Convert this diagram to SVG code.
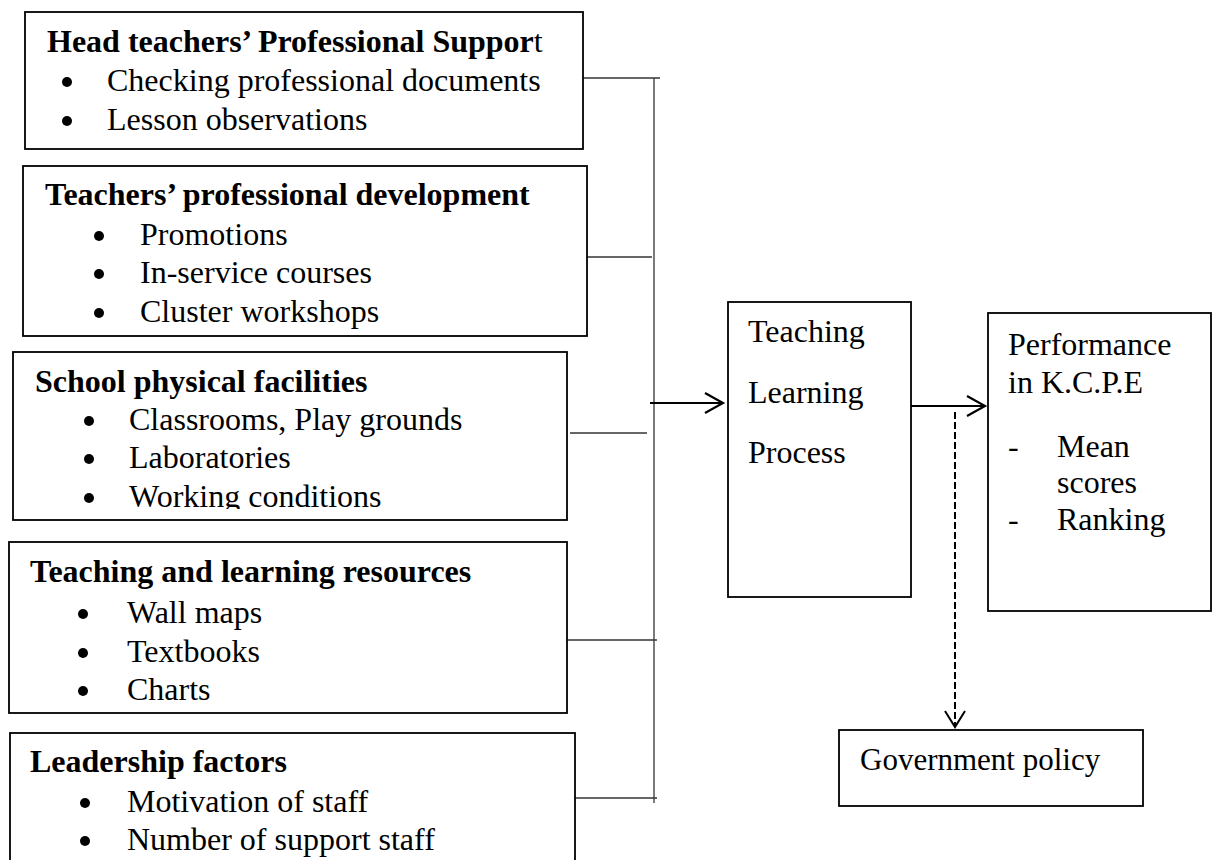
<svg xmlns="http://www.w3.org/2000/svg" width="1217" height="860" viewBox="0 0 1217 860">
  <style>
    .box { fill: #fff; stroke: #000; stroke-width: 1.8; }
    .t { font-family: "Liberation Serif", "Times New Roman", serif; font-size: 32px; fill: #000; }
    .b { font-weight: bold; }
    .n { font-weight: normal; }
    .bul { fill: #000; }
    .conn { stroke: #333; stroke-width: 1.3; fill: none; }
    .arrow { stroke: #000; stroke-width: 2.2; fill: none; }
    .dash { stroke: #000; stroke-width: 2; fill: none; stroke-dasharray: 7 3; }
  </style>
  <defs>
    <marker id="chev" markerWidth="22" markerHeight="24" refX="19" refY="12" orient="auto" markerUnits="userSpaceOnUse">
      <path d="M1,2 L19,12 L1,22" fill="none" stroke="#000" stroke-width="2.2"/>
    </marker>
    <clipPath id="clip3">
      <rect x="0" y="340" width="600" height="169"/>
    </clipPath>
  </defs>
  <rect width="1217" height="860" fill="#fff"/>

  <g id="connectors">
    <line class="conn" x1="583" y1="78" x2="660" y2="78"/>
    <line class="conn" x1="654" y1="78" x2="654" y2="803"/>
    <line class="conn" x1="583" y1="257" x2="652" y2="257"/>
    <line class="conn" x1="570" y1="433" x2="647" y2="433"/>
    <line class="conn" x1="567" y1="640" x2="657" y2="640"/>
    <line class="conn" x1="572" y1="798" x2="657" y2="798"/>
    <line class="arrow" x1="650" y1="403" x2="723" y2="403" marker-end="url(#chev)"/>
    <line class="arrow" x1="911" y1="406" x2="985" y2="406" marker-end="url(#chev)"/>
    <line class="dash" x1="955" y1="412" x2="955" y2="725"/>
    <path d="M945,711 L955,727 L965,711" fill="none" stroke="#000" stroke-width="2"/>
  </g>

  <g id="node-head-teachers">
    <rect class="box" x="25" y="12" width="558" height="137"/>
    <text class="t b" x="47" y="52">Head teachers’ Professional Suppor<tspan class="n">t</tspan></text>
    <circle class="bul" cx="67" cy="82" r="5"/>
    <text class="t" x="107" y="91">Checking professional documents</text>
    <circle class="bul" cx="67" cy="121" r="5"/>
    <text class="t" x="107" y="130">Lesson observations</text>
  </g>

  <g id="node-professional-development">
    <rect class="box" x="23" y="166" width="564" height="170"/>
    <text class="t b" x="45" y="205">Teachers’ professional development</text>
    <circle class="bul" cx="99" cy="236" r="5"/>
    <text class="t" x="140" y="245">Promotions</text>
    <circle class="bul" cx="99" cy="274" r="5"/>
    <text class="t" x="140" y="283">In-service courses</text>
    <circle class="bul" cx="99" cy="313" r="5"/>
    <text class="t" x="140" y="322">Cluster workshops</text>
  </g>

  <g id="node-physical-facilities">
    <rect class="box" x="13" y="352" width="554" height="168"/>
    <g clip-path="url(#clip3)">
      <text class="t b" x="35" y="392">School physical facilities</text>
      <circle class="bul" cx="89" cy="421" r="5"/>
      <text class="t" x="129" y="430">Classrooms, Play grounds</text>
      <circle class="bul" cx="89" cy="459" r="5"/>
      <text class="t" x="129" y="468">Laboratories</text>
      <circle class="bul" cx="89" cy="498" r="5"/>
      <text class="t" x="129" y="507">Working conditions</text>
    </g>
  </g>

  <g id="node-resources">
    <rect class="box" x="9" y="542" width="558" height="171"/>
    <text class="t b" x="30" y="582">Teaching and learning resources</text>
    <circle class="bul" cx="83" cy="614" r="5"/>
    <text class="t" x="127" y="623">Wall maps</text>
    <circle class="bul" cx="83" cy="653" r="5"/>
    <text class="t" x="127" y="662">Textbooks</text>
    <circle class="bul" cx="83" cy="691" r="5"/>
    <text class="t" x="127" y="700">Charts</text>
  </g>

  <g id="node-leadership">
    <rect class="box" x="10" y="733" width="565" height="160"/>
    <text class="t b" x="30" y="772">Leadership factors</text>
    <circle class="bul" cx="85" cy="803" r="5"/>
    <text class="t" x="127" y="812">Motivation of staff</text>
    <circle class="bul" cx="85" cy="841" r="5"/>
    <text class="t" x="127" y="850">Number of support staff</text>
  </g>

  <g id="node-teaching-learning">
    <rect class="box" x="728" y="302" width="183" height="295"/>
    <text class="t" x="748" y="342">Teaching</text>
    <text class="t" x="748" y="403">Learning</text>
    <text class="t" x="748" y="463">Process</text>
  </g>

  <g id="node-performance">
    <rect class="box" x="988" y="313" width="223" height="298"/>
    <text class="t" x="1008" y="355">Performance</text>
    <text class="t" x="1008" y="393">in K.C.P.E</text>
    <text class="t" x="1008" y="457">-</text>
    <text class="t" x="1057" y="457">Mean</text>
    <text class="t" x="1057" y="493">scores</text>
    <text class="t" x="1008" y="530">-</text>
    <text class="t" x="1057" y="530">Ranking</text>
  </g>

  <g id="node-government-policy">
    <rect class="box" x="839" y="730" width="304" height="76"/>
    <text class="t" x="860" y="770" style="font-size:31px">Government policy</text>
  </g>
</svg>
